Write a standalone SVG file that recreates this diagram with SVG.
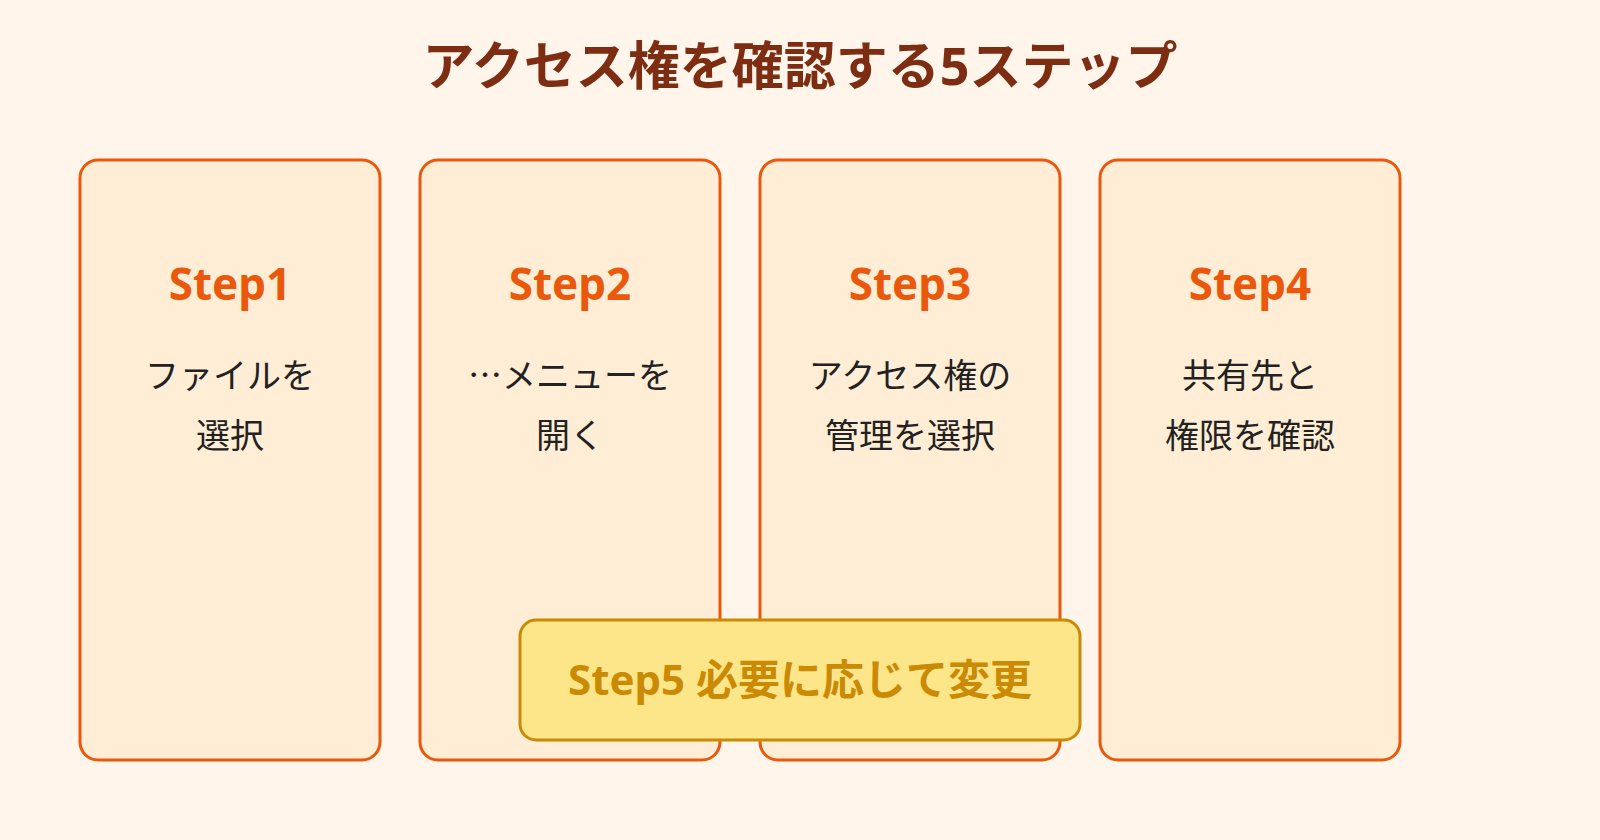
<svg xmlns="http://www.w3.org/2000/svg" width="1600" height="840" viewBox="0 0 1600 840">
<style>
.card{fill:#FFEDD5;stroke:#EA580C;stroke-width:3}
.st{font-family:"Noto Sans","Noto Sans CJK JP",sans-serif;font-weight:bold;font-size:44px;fill:#EA580C;text-anchor:middle}
.bd{font-family:"Noto Sans CJK JP",sans-serif;font-size:34px;fill:#222;text-anchor:middle}
</style>
<rect width="1600" height="840" fill="#FFF5EB"/>
<text x="800" y="85" text-anchor="middle" font-family="Noto Sans,Noto Sans CJK JP,sans-serif" font-weight="bold" font-size="52" fill="#7C2D12">アクセス権を確認する5ステップ</text>
<g id="step1"><rect class="card" x="80" y="160" width="300" height="600" rx="18"/><text class="st" x="230" y="300">Step1</text><text class="bd" x="230" y="388">ファイルを</text><text class="bd" x="230" y="448">選択</text></g>
<g id="step2"><rect class="card" x="420" y="160" width="300" height="600" rx="18"/><text class="st" x="570" y="300">Step2</text><text class="bd" x="570" y="388">…メニューを</text><text class="bd" x="570" y="448">開く</text></g>
<g id="step3"><rect class="card" x="760" y="160" width="300" height="600" rx="18"/><text class="st" x="910" y="300">Step3</text><text class="bd" x="910" y="388">アクセス権の</text><text class="bd" x="910" y="448">管理を選択</text></g>
<g id="step4"><rect class="card" x="1100" y="160" width="300" height="600" rx="18"/><text class="st" x="1250" y="300">Step4</text><text class="bd" x="1250" y="388">共有先と</text><text class="bd" x="1250" y="448">権限を確認</text></g>
<g id="step5"><rect x="520" y="620" width="560" height="120" rx="16" fill="#FDE68A" stroke="#CA8A04" stroke-width="3"/><text class="st" x="800" y="695" font-size="42" style="fill:#CA8A04;font-size:42px">Step5 必要に応じて変更</text></g>
<g id="connectors"/>
</svg>
